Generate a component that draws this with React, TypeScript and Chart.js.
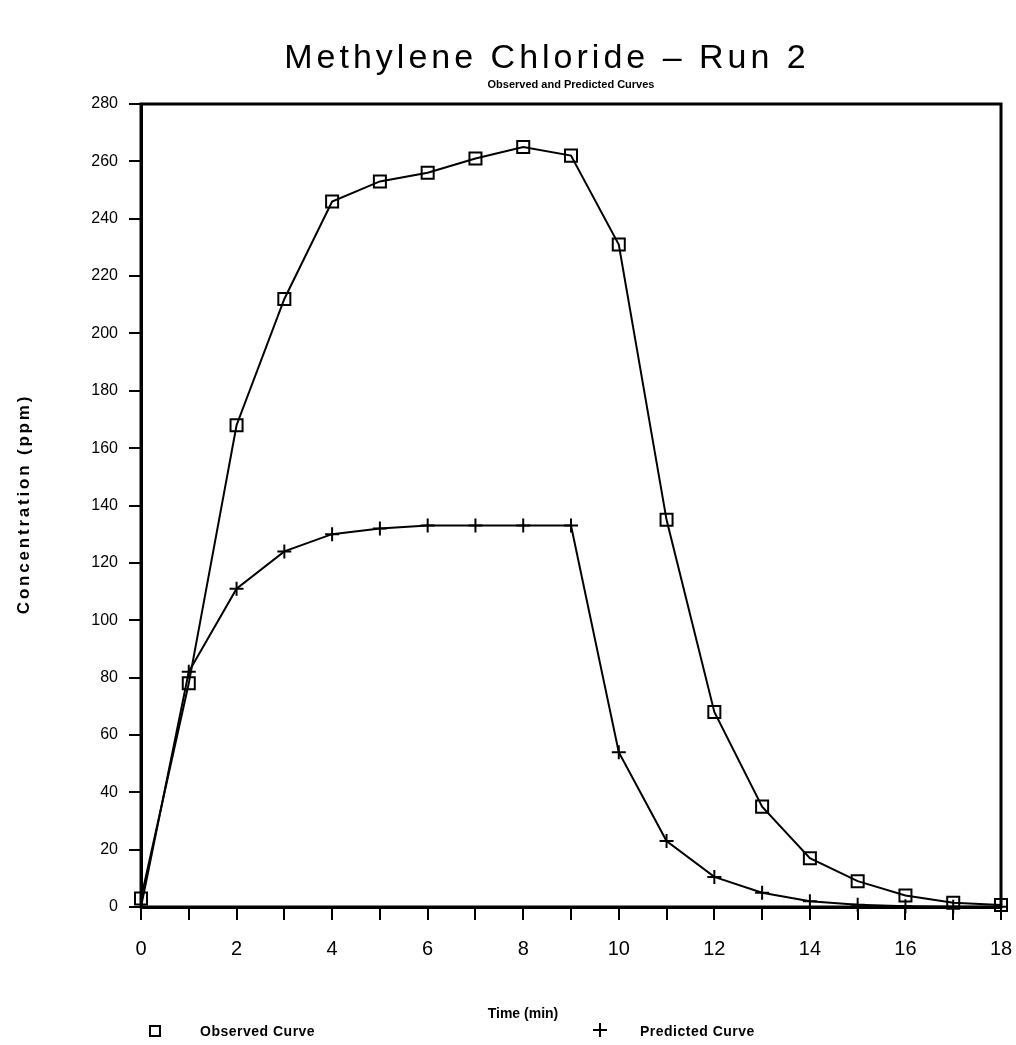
import React, { useEffect, useRef } from 'react';
import { Chart, registerables } from 'chart.js';

Chart.register(...registerables);

// ---- data ----
const timeMin = [0, 1, 2, 3, 4, 5, 6, 7, 8, 9, 10, 11, 12, 13, 14, 15, 16, 17, 18];
const observedPpm = [3, 78, 168, 212, 246, 253, 256, 261, 265, 262, 231, 135, 68, 35, 17, 9, 4, 1.5, 0.7];
const predictedPpm = [0, 82, 111, 124, 130, 132, 133, 133, 133, 133, 54, 23, 10.5, 5, 2, 0.8, 0.3, 0.1, 0.05];
const xLabelTicks = [0, 2, 4, 6, 8, 10, 12, 14, 16, 18];

const titleText = 'Methylene Chloride \u2013 Run 2';
const subtitleText = 'Observed and Predicted Curves';
const xTitle = 'Time (min)';
const yTitle = 'Concentration (ppm)';
const legendObserved = 'Observed Curve';
const legendPredicted = 'Predicted Curve';

const W = 1016;
const H = 1045;
const FONT = '"Liberation Sans", Arial, sans-serif';

const textPlugin = {
  id: 'textPlugin',
  beforeDatasetsDraw(chart: any) {
    const { ctx, chartArea } = chart;
    ctx.save();
    ctx.strokeStyle = '#000';
    ctx.lineWidth = 3;
    ctx.strokeRect(chartArea.left, chartArea.top, chartArea.right - chartArea.left, chartArea.bottom - chartArea.top);
    ctx.restore();
  },
  afterDraw(chart: any) {
    const { ctx, chartArea } = chart;
    const cx = (chartArea.left + chartArea.right) / 2;
    ctx.save();
    ctx.fillStyle = '#000';
    ctx.textAlign = 'center';
    ctx.textBaseline = 'alphabetic';
    // title
    ctx.font = `normal 34px ${FONT}`;
    (ctx as any).letterSpacing = '4px';
    ctx.fillText(titleText, 547, 68);
    // subtitle
    ctx.font = `bold 11px ${FONT}`;
    (ctx as any).letterSpacing = '0px';
    ctx.fillText(subtitleText, cx, 88);
    // x title
    ctx.font = `bold 14px ${FONT}`;
    ctx.fillText(xTitle, 523, 1018);
    // y title
    ctx.save();
    ctx.translate(24, 504);
    ctx.rotate(-Math.PI / 2);
    ctx.textBaseline = 'middle';
    ctx.font = `bold 17px ${FONT}`;
    (ctx as any).letterSpacing = '2.8px';
    ctx.fillText(yTitle, 0, 0);
    ctx.restore();
    // legend
    ctx.textAlign = 'left';
    ctx.textBaseline = 'middle';
    ctx.font = `bold 14px ${FONT}`;
    (ctx as any).letterSpacing = '0.5px';
    ctx.strokeStyle = '#000';
    ctx.lineWidth = 2;
    ctx.strokeRect(150, 1026, 10, 10);
    ctx.fillText(legendObserved, 200, 1032);
    ctx.beginPath();
    ctx.moveTo(600, 1023);
    ctx.lineTo(600, 1037);
    ctx.moveTo(593, 1030);
    ctx.lineTo(607, 1030);
    ctx.stroke();
    ctx.fillText(legendPredicted, 640, 1032);
    ctx.restore();
  },
};

export default function App() {
  const ref = useRef<HTMLCanvasElement>(null);
  useEffect(() => {
    document.body.style.margin = '0';
    const canvas = ref.current!;
    const chart = new Chart(canvas, {
      type: 'line',
      data: {
        labels: timeMin,
        datasets: [
          {
            label: legendObserved,
            data: timeMin.map((t, i) => ({ x: t, y: observedPpm[i] })),
            borderColor: '#000',
            borderWidth: 2,
            pointStyle: 'rect',
            pointRadius: 8.5,
            pointBorderWidth: 2,
            pointBorderColor: '#000',
            pointBackgroundColor: 'rgba(0,0,0,0)',
            tension: 0,
            clip: false,
          },
          {
            label: legendPredicted,
            data: timeMin.map((t, i) => ({ x: t, y: predictedPpm[i] })),
            borderColor: '#000',
            borderWidth: 2,
            pointStyle: 'cross',
            pointRadius: 7,
            pointBorderWidth: 2,
            pointBorderColor: '#000',
            tension: 0,
            clip: false,
          },
        ],
      },
      options: {
        animation: false,
        responsive: false,
        maintainAspectRatio: false,
        layout: { padding: { top: 104, right: 15, bottom: 0, left: 0 } },
        plugins: {
          legend: { display: false },
          title: { display: false },
          tooltip: { enabled: false },
        },
        scales: {
          x: {
            type: 'linear',
            min: 0,
            max: 18,
            afterFit: (s: any) => {
              s.height = 138;
              s.paddingLeft = 0;
              s.paddingRight = 0;
            },
            afterBuildTicks: (s: any) => {
              s.ticks = timeMin.map((v) => ({ value: v }));
            },
            ticks: {
              autoSkip: false,
              maxRotation: 0,
              padding: 17,
              color: '#000',
              font: { family: FONT, size: 20, weight: 'normal' },
              callback: (v: any) => (xLabelTicks.includes(Number(v)) ? String(v) : ''),
            },
            grid: {
              drawOnChartArea: false,
              drawTicks: true,
              tickLength: 13,
              color: '#000',
              lineWidth: 2,
            },
            border: { display: true, color: '#000', width: 3 },
          },
          y: {
            type: 'linear',
            min: 0,
            max: 280,
            afterFit: (s: any) => {
              s.width = 141;
              s.paddingTop = 0;
              s.paddingBottom = 0;
            },
            ticks: {
              stepSize: 20,
              padding: 11,
              color: '#000',
              font: { family: FONT, size: 16, weight: 'normal' },
            },
            grid: {
              drawOnChartArea: false,
              drawTicks: true,
              tickLength: 12,
              color: '#000',
              lineWidth: 2,
            },
            border: { display: true, color: '#000', width: 3 },
          },
        },
      },
      plugins: [textPlugin],
    });
    return () => chart.destroy();
  }, []);
  return <canvas ref={ref} width={W} height={H} style={{ display: 'block', width: W, height: H }} />;
}
